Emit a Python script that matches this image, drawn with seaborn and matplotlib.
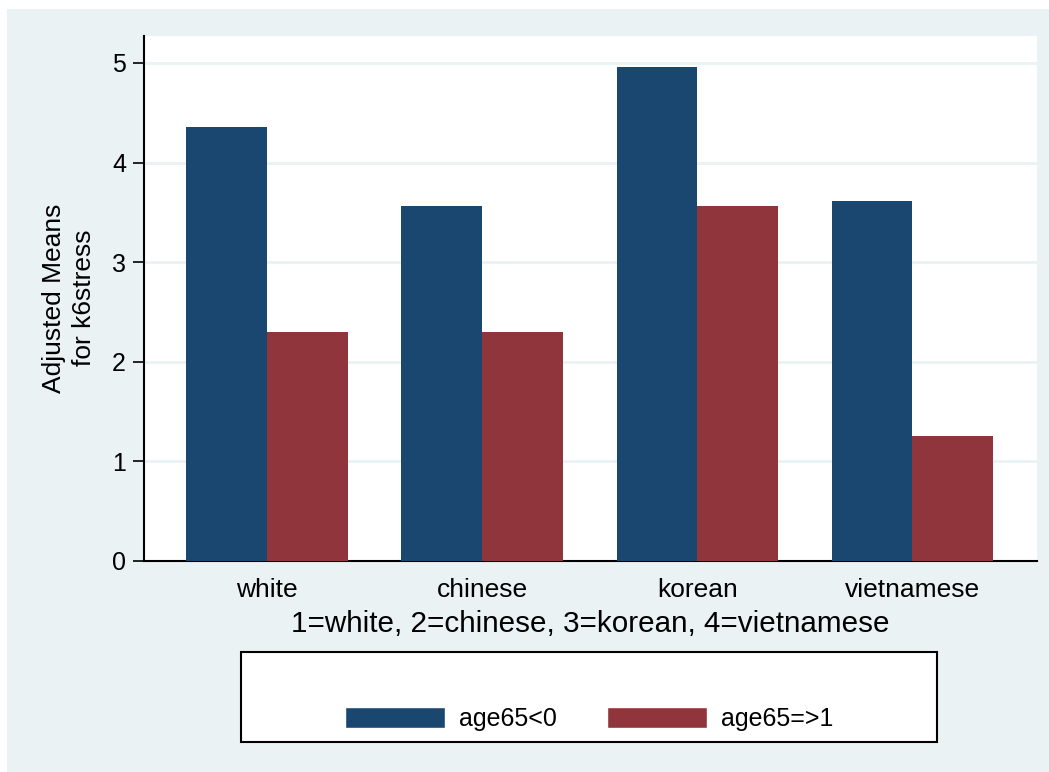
import matplotlib
matplotlib.use("Agg")
import matplotlib.pyplot as plt
import seaborn as sns
import pandas as pd
from matplotlib.patches import Rectangle, Patch

races = ['white', 'chinese', 'korean', 'vietnamese']
groups = ['age65<0', 'age65=>1']
under65 = [4.36, 3.56, 4.96, 3.61]
over65 = [2.30, 2.30, 3.56, 1.25]

blue = '#1A476F'
red = '#90353B'
bg = '#EAF2F3'

data = pd.DataFrame({
    'race': races * 2,
    'group': [groups[0]] * 4 + [groups[1]] * 4,
    'value': under65 + over65,
})

sns.set_style('white')
plt.rcParams['font.family'] = ['Liberation Sans', 'DejaVu Sans']
plt.rcParams['text.color'] = 'black'
plt.rcParams['axes.labelcolor'] = 'black'
plt.rcParams['xtick.color'] = 'black'
plt.rcParams['ytick.color'] = 'black'

W, H = 1049, 772
fig = plt.figure(figsize=(W / 100, H / 100), dpi=100, facecolor='white')
fig.patches.append(Rectangle((7 / W, 0), 1, (H - 9) / H, transform=fig.transFigure,
                             facecolor=bg, edgecolor='none', zorder=-10))

ax = fig.add_axes([144 / W, (H - 561) / H, 893 / W, 525 / H])
ax.set_facecolor('white')
sns.barplot(data=data, x='race', y='value', hue='group', palette=[blue, red],
            width=0.75, saturation=1, gap=0, ax=ax, legend=False,
            linewidth=0, zorder=3)

ax.set_ylim(0, 5.27)
ax.set_xlim(-0.572, 3.58)
ax.set_yticks([0, 1, 2, 3, 4, 5])
ax.yaxis.grid(True, color=bg, linewidth=2, zorder=0)
ax.set_axisbelow(True)
for s in ['top', 'right']:
    ax.spines[s].set_visible(False)
for s in ['left', 'bottom']:
    ax.spines[s].set_color('black')
    ax.spines[s].set_linewidth(1.5)
ax.tick_params(axis='y', length=8, width=1.2, labelsize=18, pad=5, left=True)
ax.tick_params(axis='x', length=0, labelsize=19, pad=12)
ax.set_xlabel('1=white, 2=chinese, 3=korean, 4=vietnamese', fontsize=21.3, labelpad=6)
ax.set_ylabel('')

fig.text(69 / W, 1 - 298 / H, 'Adjusted Means\nfor k6stress', rotation=90,
         ha='center', va='center', fontsize=19, multialignment='center', linespacing=1.35)

# legend box
fig.patches.append(Rectangle((241 / W, 1 - 742 / H), (937 - 241) / W, 90 / H,
                             transform=fig.transFigure, facecolor='white',
                             edgecolor='black', linewidth=1.5, zorder=5))
handles = [Patch(facecolor=blue), Patch(facecolor=red)]
leg = fig.legend(handles, groups, loc='center', ncol=2, frameon=False,
                 bbox_to_anchor=(589 / W, 1 - 719 / H), fontsize=18,
                 handlelength=4.0, handleheight=0.9, columnspacing=2.0,
                 handletextpad=0.56)
leg.set_zorder(6)

fig.savefig('out.png', dpi=100, facecolor='white')
